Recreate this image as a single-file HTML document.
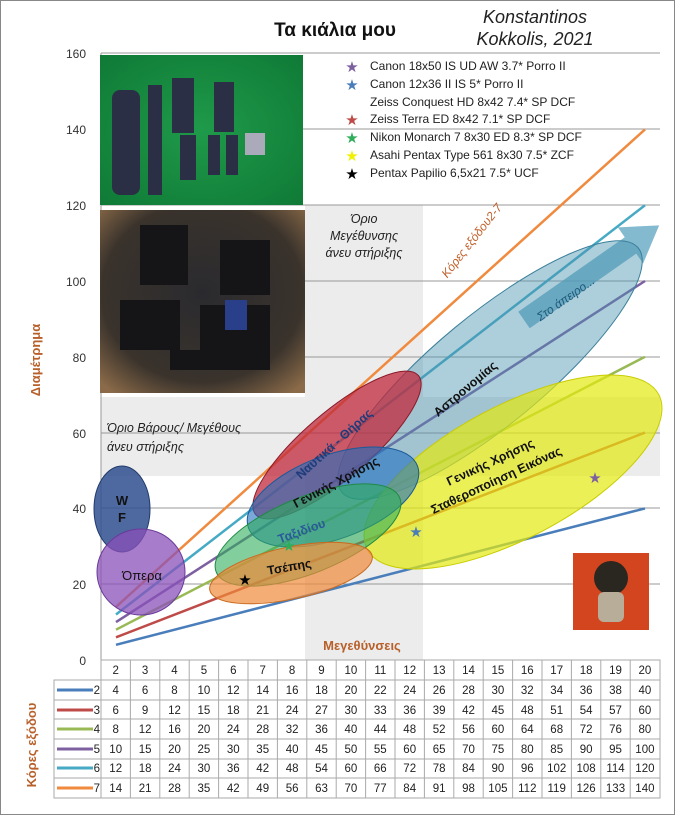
<!DOCTYPE html>
<html><head><meta charset="utf-8"><style>
html,body{margin:0;padding:0;background:#fff}
svg{display:block}
text{font-family:"Liberation Sans","DejaVu Sans",sans-serif}
</style></head><body>
<svg width="675" height="815" viewBox="0 0 675 815" xmlns="http://www.w3.org/2000/svg">
<rect x="0.5" y="0.5" width="674" height="814" fill="#fff" stroke="#888"/>
<rect x="305" y="205" width="118" height="455" fill="#ececec"/>
<rect x="101" y="397" width="559" height="79" fill="#ececec"/>
<g stroke="#999" stroke-width="1">
<line x1="101" y1="53" x2="660" y2="53"/><line x1="101" y1="129" x2="660" y2="129"/>
<line x1="101" y1="205" x2="660" y2="205"/><line x1="101" y1="281" x2="660" y2="281"/>
<line x1="101" y1="357" x2="660" y2="357"/><line x1="101" y1="433" x2="660" y2="433"/>
<line x1="101" y1="508" x2="660" y2="508"/><line x1="101" y1="584" x2="660" y2="584"/>
<line x1="101" y1="53" x2="101" y2="660"/>
</g>
<g font-size="12" fill="#333" text-anchor="end">
<text x="86" y="58">160</text><text x="86" y="134">140</text><text x="86" y="210">120</text>
<text x="86" y="286">100</text><text x="86" y="362">80</text><text x="86" y="438">60</text>
<text x="86" y="513">40</text><text x="86" y="589">20</text><text x="86" y="665">0</text>
</g>
<defs>
<radialGradient id="g1" cx="0.5" cy="0.5" r="0.7"><stop offset="0" stop-color="#1f9a4a"/><stop offset="1" stop-color="#0f7a36"/></radialGradient>
<radialGradient id="g2" cx="0.5" cy="0.45" r="0.7"><stop offset="0" stop-color="#2a2a2e"/><stop offset="0.7" stop-color="#3a332c"/><stop offset="1" stop-color="#8a6a48"/></radialGradient>
</defs>
<rect x="100" y="55" width="203" height="150" fill="url(#g1)"/>
<g fill="#2b2f45"><rect x="112" y="90" width="28" height="105" rx="8"/><rect x="148" y="85" width="14" height="110"/><rect x="172" y="78" width="22" height="55"/><rect x="214" y="82" width="20" height="50"/><rect x="180" y="135" width="16" height="45"/><rect x="208" y="135" width="12" height="40"/><rect x="226" y="135" width="12" height="40"/></g>
<rect x="245" y="133" width="20" height="22" fill="#aab"/>
<rect x="100" y="210" width="205" height="183" fill="url(#g2)"/>
<g fill="#151518"><rect x="140" y="225" width="48" height="60"/><rect x="220" y="240" width="50" height="55"/><rect x="120" y="300" width="60" height="50"/><rect x="200" y="305" width="70" height="45"/><rect x="170" y="350" width="100" height="20"/></g>
<rect x="225" y="300" width="22" height="30" fill="#2a3f8a"/>
<g stroke-width="2.5" fill="none">
<line x1="116" y1="644.8" x2="645" y2="508.4" stroke="#4a7ebb"/>
<line x1="116" y1="637.3" x2="645" y2="432.6" stroke="#be4b48"/>
<line x1="116" y1="629.7" x2="645" y2="356.8" stroke="#98b954"/>
<line x1="116" y1="622.1" x2="645" y2="281" stroke="#7d60a0"/>
<line x1="116" y1="614.5" x2="645" y2="205.2" stroke="#46aac5"/>
<line x1="116" y1="606.9" x2="645" y2="129.4" stroke="#f08a3e"/>
</g>
<g transform="translate(524,320) rotate(-35)">
<polygon points="0,-10 130,-10 130,-22 165,0 130,22 130,10 0,10" fill="#5ba3bf" fill-opacity="0.75"/>
</g>
<g stroke-width="1">
<ellipse cx="490" cy="370" rx="192" ry="55" transform="rotate(-39.5 490 370)" fill="#4a93b0" fill-opacity="0.45" stroke="#3a7f9a"/>
<ellipse cx="513" cy="472" rx="165" ry="66" transform="rotate(-28 513 472)" fill="#e4ea10" fill-opacity="0.7" stroke="#c8cc00"/>
<ellipse cx="337" cy="445" rx="107" ry="33" transform="rotate(-40.5 337 445)" fill="#c0283c" fill-opacity="0.75" stroke="#8a1a28"/>
<ellipse cx="333" cy="497" rx="90" ry="42" transform="rotate(-20 333 497)" fill="#1f6fbf" fill-opacity="0.6" stroke="#1a5a9a"/>
<ellipse cx="308" cy="535" rx="99" ry="38" transform="rotate(-22 308 535)" fill="#2eae5a" fill-opacity="0.6" stroke="#1f8a45"/>
<ellipse cx="291" cy="573" rx="83" ry="26" transform="rotate(-12 291 573)" fill="#ee8a3a" fill-opacity="0.7" stroke="#c86a20"/>
<ellipse cx="122" cy="509" rx="28" ry="43" fill="#2f4f8f" fill-opacity="0.85" stroke="#203a6a"/>
<ellipse cx="141" cy="572" rx="44" ry="43" fill="#8a50b8" fill-opacity="0.75" stroke="#6a3a9a"/>
</g>
<g font-weight="bold" font-size="12.5" text-anchor="middle">
<text x="468" y="392" transform="rotate(-40 468 392)" fill="#111">Αστρονομίας</text>
<text x="337" y="447" transform="rotate(-42 337 447)" fill="#1f3c7a">Ναυτικά - Θήρας</text>
<text x="338" y="486" transform="rotate(-28 338 486)" fill="#111">Γενικής Χρήσης</text>
<text x="303" y="535" transform="rotate(-20 303 535)" fill="#2a5a9a">Ταξιδίου</text>
<text x="290" y="571" transform="rotate(-10 290 571)" fill="#111">Τσέπης</text>
<text x="492" y="466" transform="rotate(-25 492 466)" fill="#111">Γενικής Χρήσης</text>
<text x="498" y="484" transform="rotate(-25 498 484)" fill="#111">Σταθεροποίηση Εικόνας</text>
<text x="122" y="505" fill="#111" font-size="13">W</text>
<text x="122" y="522" fill="#111" font-size="13">F</text>
<text x="142" y="580" fill="#111" font-weight="normal" font-size="13">Όπερα</text>
</g>
<text x="568" y="302" transform="rotate(-35 568 302)" fill="#1f5a7a" font-size="12" font-style="italic" text-anchor="middle">Στο άπειρο...</text>
<text x="475" y="243" transform="rotate(-52 475 243)" fill="#c0602a" font-size="12" font-style="italic" text-anchor="middle">Κόρες εξόδου2-7</text>
<g font-size="15" text-anchor="middle">
<text x="595" y="483" fill="#7d60a0">★</text>
<text x="416" y="537" fill="#4a7ebb">★</text>
<text x="289" y="551" fill="#2eae5a">★</text>
<text x="245" y="585" fill="#000">★</text>
</g>
<g font-style="italic" font-size="12.5" fill="#222" text-anchor="middle">
<text x="364" y="223">Όριο</text><text x="364" y="240">Μεγέθυνσης</text><text x="364" y="257">άνευ στήριξης</text>
</g>
<g font-style="italic" font-size="12.5" fill="#222">
<text x="107" y="432">Όριο Βάρους/ Μεγέθους</text><text x="107" y="451">άνευ στήριξης</text>
</g>
<rect x="573" y="553" width="76" height="77" fill="#d2451e"/>
<circle cx="611" cy="578" r="17" fill="#2a2620"/>
<rect x="598" y="592" width="26" height="30" rx="6" fill="#b8ad98"/>
<text x="335" y="36" font-size="19" font-weight="bold" text-anchor="middle" fill="#111">Τα κιάλια μου</text>
<g font-family="Liberation Serif,serif" font-style="italic" font-size="18" fill="#222" text-anchor="middle">
<text x="535" y="23" font-family="Liberation Serif,serif">Konstantinos</text>
<text x="535" y="45" font-family="Liberation Serif,serif">Kokkolis, 2021</text>
</g>
<g font-size="12" fill="#222">
<text x="352" y="72" fill="#7d60a0" text-anchor="middle" font-size="15">★</text><text x="370" y="70">Canon 18x50  IS UD  AW 3.7* Porro II</text>
<text x="352" y="90" fill="#4a7ebb" text-anchor="middle" font-size="15">★</text><text x="370" y="88">Canon 12x36  II IS 5* Porro II</text>
<text x="370" y="106">Zeiss Conquest HD 8x42 7.4* SP DCF</text>
<text x="352" y="125" fill="#be4b48" text-anchor="middle" font-size="15">★</text><text x="370" y="123">Zeiss Terra ED  8x42 7.1*  SP DCF</text>
<text x="352" y="143" fill="#2eae5a" text-anchor="middle" font-size="15">★</text><text x="370" y="141">Nikon Monarch 7 8x30 ED 8.3* SP DCF</text>
<text x="352" y="161" fill="#f0f000" text-anchor="middle" font-size="15">★</text><text x="370" y="159">Asahi Pentax Type 561  8x30 7.5* ZCF</text>
<text x="352" y="179" fill="#000" text-anchor="middle" font-size="15">★</text><text x="370" y="177">Pentax Papilio 6,5x21 7.5* UCF</text>
</g>
<text x="0" y="0" transform="translate(40,360) rotate(-90)" font-size="13" font-weight="bold" fill="#b8602a" text-anchor="middle">Διαμέτρημα</text>
<text x="362" y="650" font-size="13" font-weight="bold" fill="#b8602a" text-anchor="middle">Μεγεθύνσεις</text>
<text x="0" y="0" transform="translate(36,745) rotate(-90)" font-size="13" font-weight="bold" fill="#b8602a" text-anchor="middle">Κόρες εξόδου</text>
<g stroke="#aaa" stroke-width="1" fill="none">
<rect x="101" y="660" width="559" height="138"/>
<rect x="54" y="680" width="47" height="118"/>
<line x1="101" y1="680" x2="660" y2="680"/><line x1="54" y1="700" x2="660" y2="700"/>
<line x1="54" y1="719" x2="660" y2="719"/><line x1="54" y1="739" x2="660" y2="739"/>
<line x1="54" y1="759" x2="660" y2="759"/><line x1="54" y1="778" x2="660" y2="778"/>
</g>
<g stroke="#aaa" id="vcols"></g>
<g stroke-width="3">
<line x1="57" y1="690" x2="93" y2="690" stroke="#4a7ebb"/>
<line x1="57" y1="710" x2="93" y2="710" stroke="#be4b48"/>
<line x1="57" y1="729" x2="93" y2="729" stroke="#98b954"/>
<line x1="57" y1="749" x2="93" y2="749" stroke="#7d60a0"/>
<line x1="57" y1="768" x2="93" y2="768" stroke="#46aac5"/>
<line x1="57" y1="788" x2="93" y2="788" stroke="#f08a3e"/>
</g>
<g font-size="11.5" fill="#222" text-anchor="end">
<text x="100" y="694">2</text><text x="100" y="714">3</text><text x="100" y="733">4</text>
<text x="100" y="753">5</text><text x="100" y="772">6</text><text x="100" y="792">7</text>
</g>
<g id="tbl" font-size="11.5" fill="#222" text-anchor="middle"></g>
</svg>
<script>
var ns="http://www.w3.org/2000/svg",v=document.getElementById("vcols"),t=document.getElementById("tbl");
for(var k=1;k<19;k++){var x=101+29.4*k,l=document.createElementNS(ns,"line");l.setAttribute("x1",x);l.setAttribute("x2",x);l.setAttribute("y1",660);l.setAttribute("y2",798);v.appendChild(l);}
var ys=[674,694,714,733,753,772,792];
for(var m=2;m<=20;m++){var cx=101+29.4*(m-2)+14.7;
for(var r=0;r<7;r++){var e=document.createElementNS(ns,"text");e.setAttribute("x",cx);e.setAttribute("y",ys[r]);e.textContent=r==0?m:m*(r+1);t.appendChild(e);}}
</script>
</body></html>
